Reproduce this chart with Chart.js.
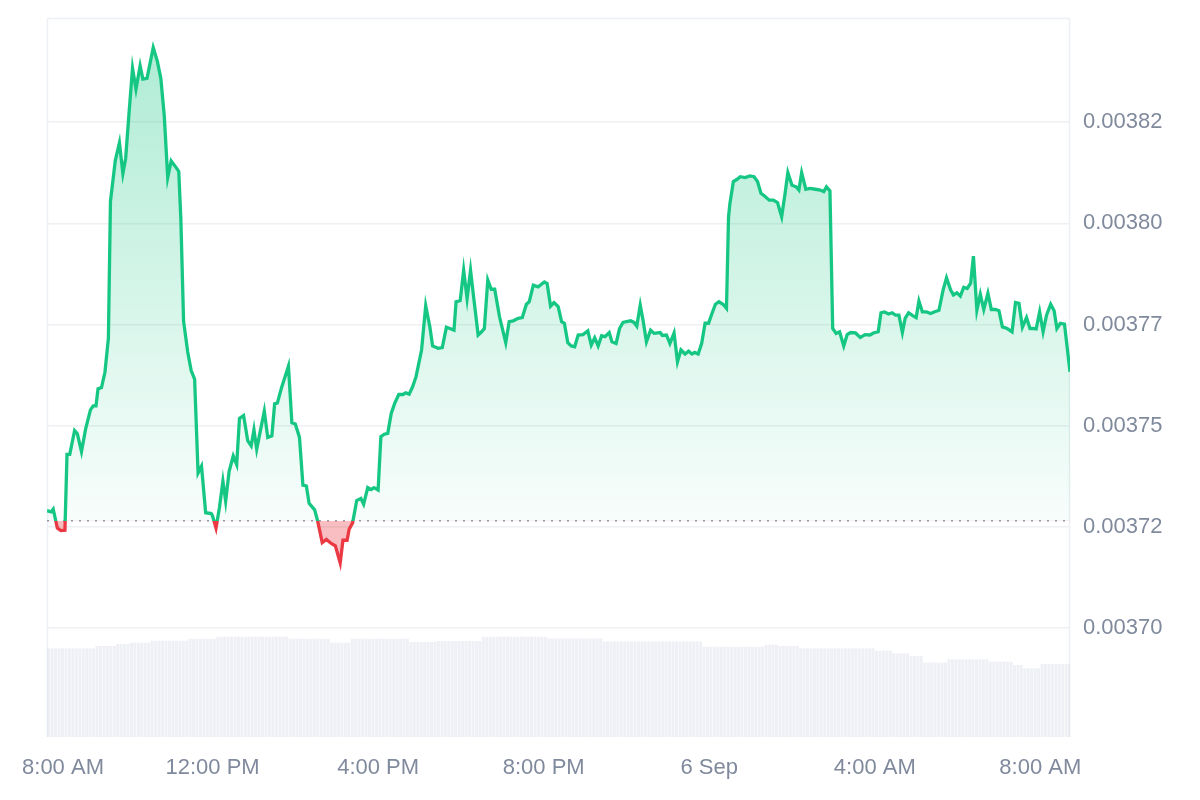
<!DOCTYPE html>
<html>
<head>
<meta charset="utf-8">
<script src="https://cdn.jsdelivr.net/npm/chart.js@4.4.1/dist/chart.umd.min.js"></script>
<style>
  html, body { margin: 0; padding: 0; background: #ffffff; }
  #wrap { width: 1200px; height: 800px; }
</style>
</head>
<body>
<div id="wrap"><canvas id="c" width="1200" height="800"></canvas></div>
<script>
// Minutes since 8:00 AM (5 Sep)
const times = [
  0,6,9,15,20,26,29,33,40,44,
  50,56,63,67,71,74,79,84,89,92,
  99,105,110,114,119,124,129,135,139,145,
  154,160,165,170,175,180,187,191,194,198,
  204,209,214,219,224,230,238,240,245,250,
  255,259,264,270,275,279,285,291,296,300,
  304,315,320,326,330,334,340,350,355,360,
  366,371,376,380,388,392,399,405,412,418,
  425,429,435,438,443,449,455,459,465,470,
  474,480,484,489,494,499,504,510,516,520,
  525,530,535,543,549,555,559,567,573,579,
  584,590,593,599,604,609,614,619,625,630,
  634,639,644,649,656,665,670,676,683,689,
  695,699,705,712,721,725,730,735,741,746,
  750,755,760,765,770,777,784,789,794,799,
  804,809,815,819,825,830,835,840,846,851,
  855,860,864,869,875,880,889,892,898,903,
  909,914,919,925,930,935,939,944,949,954,
  959,964,969,974,980,985,988,990,995,1000,
  1005,1012,1019,1025,1030,1035,1041,1047,1053,1059,
  1065,1070,1074,1080,1086,1090,1094,1100,1106,1114,
  1121,1126,1130,1135,1139,1144,1149,1155,1160,1165,
  1172,1179,1186,1193,1198,1205,1209,1214,1220,1225,
  1230,1235,1240,1244,1249,1255,1260,1264,1269,1275,
  1281,1286,1293,1299,1304,1310,1314,1319,1324,1329,
  1334,1339,1343,1348,1353,1358,1364,1369,1375,1380,
  1385,1392,1399,1404,1409,1414,1420,1425,1430,1434,
  1439,1444,1449,1455,1460,1464,1469,1475,1483
];

const prices = [
  0.0037290,0.0037287,0.0037294,0.0037247,0.0037241,0.0037242,0.0037429,0.0037429,0.0037488,0.0037480,
  0.0037436,0.0037492,0.0037539,0.0037549,0.0037549,0.0037591,0.0037594,0.0037632,0.0037716,0.0038054,
  0.0038155,0.0038199,0.0038123,0.0038160,0.0038274,0.0038383,0.0038331,0.0038389,0.0038356,0.0038358,
  0.0038434,0.0038400,0.0038358,0.0038265,0.0038113,0.0038154,0.0038138,0.0038128,0.0038012,0.0037758,
  0.0037682,0.0037636,0.0037615,0.0037383,0.0037400,0.0037285,0.0037283,0.0037277,0.0037247,0.0037298,
  0.0037363,0.0037313,0.0037387,0.0037425,0.0037404,0.0037518,0.0037525,0.0037463,0.0037450,0.0037490,
  0.0037442,0.0037536,0.0037471,0.0037475,0.0037554,0.0037556,0.0037594,0.0037647,0.0037507,0.0037504,
  0.0037471,0.0037353,0.0037351,0.0037308,0.0037292,0.0037267,0.0037211,0.0037219,0.0037209,0.0037203,
  0.0037161,0.0037217,0.0037217,0.0037244,0.0037260,0.0037315,0.0037320,0.0037306,0.0037347,0.0037342,
  0.0037347,0.0037341,0.0037473,0.0037479,0.0037481,0.0037530,0.0037555,0.0037577,0.0037577,0.0037581,
  0.0037578,0.0037596,0.0037621,0.0037687,0.0037796,0.0037744,0.0037697,0.0037691,0.0037693,0.0037743,
  0.0037740,0.0037736,0.0037806,0.0037809,0.0037884,0.0037814,0.0037884,0.0037810,0.0037724,0.0037732,
  0.0037740,0.0037860,0.0037837,0.0037837,0.0037769,0.0037705,0.0037757,0.0037759,0.0037765,0.0037767,
  0.0037800,0.0037806,0.0037847,0.0037843,0.0037855,0.0037851,0.0037795,0.0037804,0.0037794,0.0037757,
  0.0037753,0.0037705,0.0037697,0.0037695,0.0037724,0.0037725,0.0037734,0.0037699,0.0037717,0.0037697,
  0.0037722,0.0037720,0.0037730,0.0037707,0.0037703,0.0037740,0.0037755,0.0037757,0.0037759,0.0037755,
  0.0037746,0.0037798,0.0037761,0.0037707,0.0037736,0.0037728,0.0037730,0.0037723,0.0037724,0.0037703,
  0.0037729,0.0037658,0.0037687,0.0037677,0.0037684,0.0037677,0.0037681,0.0037677,0.0037703,0.0037753,
  0.0037753,0.0037777,0.0037800,0.0037806,0.0037800,0.0037790,0.0038016,0.0038049,0.0038103,0.0038108,
  0.0038115,0.0038113,0.0038117,0.0038115,0.0038103,0.0038074,0.0038066,0.0038057,0.0038057,0.0038051,
  0.0038016,0.0038074,0.0038125,0.0038094,0.0038090,0.0038082,0.0038125,0.0038084,0.0038086,0.0038084,
  0.0038082,0.0038078,0.0038090,0.0038080,0.0037740,0.0037728,0.0037732,0.0037697,0.0037725,0.0037730,
  0.0037729,0.0037718,0.0037725,0.0037724,0.0037729,0.0037732,0.0037779,0.0037781,0.0037776,0.0037779,
  0.0037773,0.0037773,0.0037730,0.0037765,0.0037779,0.0037772,0.0037767,0.0037808,0.0037781,0.0037781,
  0.0037777,0.0037781,0.0037785,0.0037835,0.0037865,0.0037835,0.0037823,0.0037828,0.0037820,0.0037842,
  0.0037839,0.0037852,0.0037919,0.0037785,0.0037825,0.0037787,0.0037827,0.0037787,0.0037787,0.0037784,
  0.0037744,0.0037740,0.0037732,0.0037804,0.0037802,0.0037743,0.0037767,0.0037740,0.0037740,0.0037739,
  0.0037781,0.0037732,0.0037773,0.0037800,0.0037784,0.0037740,0.0037753,0.0037751,0.0037633
];

// Reference (opening) price shown as the dotted line
const baseline = 0.0037265;

// Volume, one bar per 5 minutes
const volStepMin = 5;
const volume = [
  887,887,887,887,887,887,887,887,887,887,887,887,887,887,
  910,910,910,910,910,910,
  930,930,930,930,
  943,943,943,943,943,943,
  963,963,963,963,963,963,963,963,963,963,963,
  983,983,983,983,983,983,983,983,
  1003,1003,1003,1003,1003,1003,1003,1003,1003,1003,1003,1003,1003,1003,1003,1003,1003,1003,1003,1003,1003,
  983,983,983,983,983,983,983,983,983,983,983,983,
  943,943,943,943,943,943,
  983,983,983,983,983,983,983,983,983,983,983,983,983,983,983,983,983,
  950,950,950,950,950,950,950,950,
  960,960,960,960,960,960,960,960,960,960,960,960,960,
  1003,1003,1003,1003,1003,1003,1003,1003,1003,1003,1003,1003,1003,1003,1003,1003,1003,1003,1003,
  985,985,985,985,985,985,985,985,985,985,985,985,985,985,985,985,
  955,955,955,955,955,955,955,955,955,955,955,955,955,955,955,955,955,955,955,955,955,955,955,955,955,955,955,955,955,
  903,903,903,903,903,903,903,903,903,903,903,903,903,903,903,903,903,903,
  923,923,923,923,
  910,910,910,910,910,910,
  887,887,887,887,887,887,887,887,887,887,887,887,887,887,887,887,887,887,887,887,887,887,
  863,863,863,863,863,
  837,837,837,837,837,
  810,810,810,810,
  743,743,743,743,743,743,743,
  777,777,777,777,777,777,777,777,777,777,777,777,
  753,753,753,753,753,753,753,
  720,720,720,
  687,687,687,687,687,
  730,730,730,730,730,730,730,730,730
];

const xTickMinutes = [0, 240, 480, 720, 960, 1200, 1440];
const xTickLabels = ['8:00 AM', '12:00 PM', '4:00 PM', '8:00 PM', '6 Sep', '4:00 AM', '8:00 AM'];
const yTickValues = [0.0037, 0.003725, 0.00375, 0.003775, 0.0038, 0.003825];
const yTickLabels = ['0.00370', '0.00372', '0.00375', '0.00377', '0.00380', '0.00382'];
const yMin = 0.0036731;
const yMax = 0.0038507;

const UP = '#16c784';
const DOWN = '#ea3943';
const TEXT = '#808a9d';
const FONT = { family: "'Liberation Sans', Arial, Helvetica, sans-serif", size: 22 };

function lineGradient(chart) {
  const { ctx, chartArea, scales } = chart;
  if (!chartArea || !scales.y) return UP;
  const yb = scales.y.getPixelForValue(baseline);
  const h = chartArea.bottom - chartArea.top;
  const t = Math.min(Math.max((yb - chartArea.top) / h, 0), 1);
  const g = ctx.createLinearGradient(0, chartArea.top, 0, chartArea.bottom);
  g.addColorStop(0, UP);
  g.addColorStop(t, UP);
  g.addColorStop(t, DOWN);
  g.addColorStop(1, DOWN);
  return g;
}

function fillGradient(chart) {
  const { ctx, chartArea, scales } = chart;
  if (!chartArea || !scales.y) return 'rgba(22,199,132,0.15)';
  const yb = scales.y.getPixelForValue(baseline);
  const g = ctx.createLinearGradient(0, chartArea.top, 0, yb);
  g.addColorStop(0, 'rgba(22,199,132,0.36)');
  g.addColorStop(1, 'rgba(22,199,132,0.03)');
  return g;
}

// Light frame on the top, left and right of the plot area
const boxPlugin = {
  id: 'areaBox',
  beforeDatasetsDraw(chart) {
    const { ctx, chartArea: { left, top, right, bottom } } = chart;
    ctx.save();
    ctx.strokeStyle = '#eceff3';
    ctx.lineWidth = 1.5;
    ctx.beginPath();
    ctx.moveTo(left + 0.5, bottom);
    ctx.lineTo(left + 0.5, top + 0.5);
    ctx.lineTo(right - 0.5, top + 0.5);
    ctx.lineTo(right - 0.5, bottom);
    ctx.stroke();
    ctx.restore();
  }
};

// Keep the first time label inside the canvas, as the source chart does
const firstLabelJustify = {
  id: 'firstLabelJustify',
  beforeDraw(chart) {
    const s = chart.scales.x;
    const items = s.getLabelItems();
    if (items.length && !items[0]._shifted) {
      items[0].options.translation[0] += 16;
      items[0]._shifted = true;
    }
  }
};

const priceData = times.map((t, i) => ({ x: t, y: prices[i] }));
const baseData = [{ x: times[0], y: baseline }, { x: times[times.length - 1], y: baseline }];
const volData = volume.map((v, i) => ({ x: i * volStepMin + volStepMin / 2, y: v }));

new Chart(document.getElementById('c'), {
  type: 'line',
  data: {
    datasets: [
      {
        type: 'line',
        label: 'Price',
        data: priceData,
        yAxisID: 'y',
        order: 0,
        borderWidth: 3.3,
        pointRadius: 0,
        tension: 0,
        borderColor: (c) => lineGradient(c.chart),
        backgroundColor: (c) => fillGradient(c.chart),
        fill: { target: { value: baseline }, below: 'rgba(234,57,67,0.33)' }
      },
      {
        type: 'line',
        label: 'Open',
        data: baseData,
        yAxisID: 'y',
        order: 1,
        borderWidth: 1.5,
        borderColor: '#959ca8',
        borderDash: [2, 6],
        pointRadius: 0,
        fill: false
      },
      {
        type: 'bar',
        label: 'Volume',
        data: volData,
        yAxisID: 'yv',
        order: 2,
        backgroundColor: 'rgba(207,214,226,0.36)',
        barPercentage: 1,
        categoryPercentage: 0.86
      }
    ]
  },
  options: {
    responsive: false,
    animation: false,
    layout: { padding: { left: 47, right: 38, top: 18, bottom: 20 } },
    plugins: { legend: { display: false }, tooltip: { enabled: false } },
    scales: {
      x: {
        type: 'linear',
        min: times[0],
        max: times[times.length - 1],
        offset: false,
        grid: { display: false, drawTicks: false },
        border: { display: false },
        afterBuildTicks: (s) => { s.ticks = xTickMinutes.map(v => ({ value: v })); },
        afterFit: (s) => { s.height = 43; s.paddingLeft = 0; s.paddingRight = 0; },
        ticks: {
          autoSkip: false,
          maxRotation: 0,
          padding: 18,
          color: TEXT,
          font: FONT,
          callback: (v, i) => xTickLabels[i]
        }
      },
      y: {
        type: 'linear',
        position: 'right',
        min: yMin,
        max: yMax,
        grid: { color: '#eef0f3', lineWidth: 1.5, drawTicks: false },
        border: { display: false },
        afterBuildTicks: (s) => { s.ticks = yTickValues.map(v => ({ value: v })); },
        afterFit: (s) => { s.width = 92; s.paddingTop = 0; s.paddingBottom = 0; },
        ticks: {
          padding: 13,
          color: TEXT,
          font: FONT,
          callback: (v, i) => yTickLabels[i]
        }
      },
      yv: {
        type: 'linear',
        display: false,
        min: 0,
        max: Math.max(...volume) * 7.17
      }
    }
  },
  plugins: [boxPlugin, firstLabelJustify]
});
</script>
</body>
</html>
